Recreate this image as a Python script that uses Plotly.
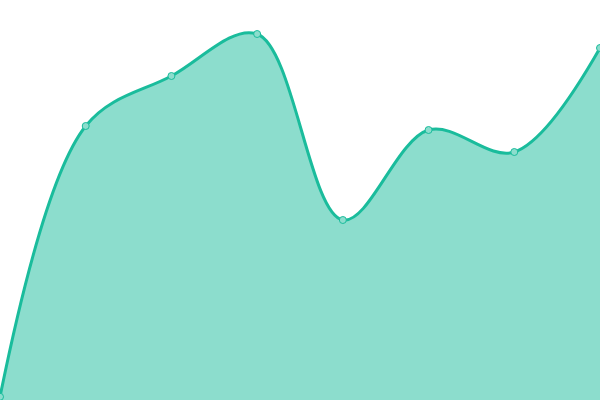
import plotly.graph_objects as go

# category positions and values
x_vals = [0, 1, 2, 3, 4, 5, 6, 7]
y_vals = [0.8, 68.5, 81, 91.5, 45, 67.5, 62, 88]

line_color = "#1abc9c"

fig = go.Figure()
fig.add_trace(go.Scatter(
    x=x_vals, y=y_vals,
    mode="lines+markers",
    fill="tozeroy",
    fillcolor="rgba(26,188,156,0.5)",
    line=dict(color=line_color, width=3, shape="spline", smoothing=1),
    marker=dict(size=7, color="#8cddcd", line=dict(color=line_color, width=1)),
    cliponaxis=False,
))
fig.update_layout(
    width=600, height=400,
    margin=dict(l=0, r=0, t=0, b=0),
    paper_bgcolor="white", plot_bgcolor="white",
    showlegend=False,
    xaxis=dict(range=[0, 7], visible=False),
    yaxis=dict(range=[0, 100], visible=False),
)
# drop the page's default body margin so the chart sits flush in the window
fig.write_html("out.html",
               config={"displayModeBar": False},
               post_script="document.body.style.margin='0';document.body.style.overflow='hidden';")
